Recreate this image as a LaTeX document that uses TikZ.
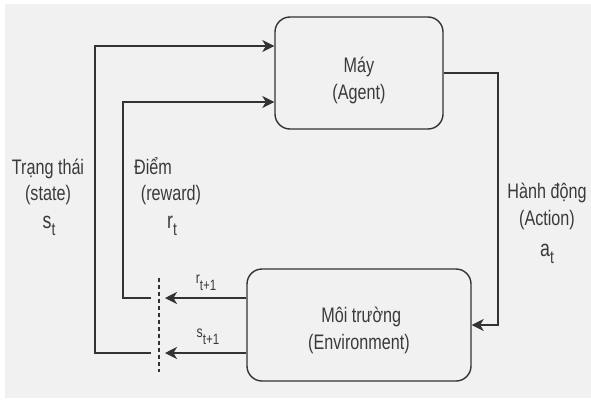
\documentclass[tikz,border=0pt]{standalone}
\usepackage{fontspec}
\setmainfont{Liberation Sans}[FakeStretch=0.77]
\usetikzlibrary{arrows.meta}
\definecolor{bg}{HTML}{F1F1F1}
\definecolor{ink}{HTML}{333333}
\definecolor{txt}{HTML}{3A3A3A}
% lowered index in a smaller size: \lowidx[size]{text}
\newcommand\lowidx[2][18]{\raisebox{-7pt}{\fontsize{#1}{#1}\selectfont #2}}
% symbol letter set a little larger than the running text
\newcommand\symb[1]{{\fontsize{23}{26}\selectfont #1}}
% extra room above the first line inside the blocks
\newcommand\boxpad[1][30pt]{\rule{0pt}{#1}}

\begin{document}
\begin{tikzpicture}[x=1pt,y=-1pt,
  box/.style={draw=ink, line width=1.4pt, rounded corners=15pt, fill=bg,
    align=center, text=txt, font=\fontsize{21}{27}\selectfont},
  wire/.style={draw=ink, line width=1.4pt},
  arr/.style={wire, -{Stealth[length=12pt,width=12pt,inset=3.5pt]}},
  cut/.style={draw=ink, line width=1.3pt, dash pattern=on 4pt off 3pt},
  lbl/.style={text=txt, font=\fontsize{21}{26}\selectfont, inner sep=0pt, anchor=base},
  elbl/.style={text=txt, font=\fontsize{16}{18}\selectfont, inner sep=0pt, anchor=base},
]
% canvas
\path[fill=white] (0,0) rectangle (591,399);
\path[fill=bg] (5,4) rectangle (591,398);
\useasboundingbox (0,0) rectangle (591,399);

% the two blocks
\node[box, minimum width=168pt, minimum height=112pt] (agent) at (359,73) {\boxpad Máy\\(Agent)};
\node[box, minimum width=224pt, minimum height=112pt] (env) at (359,325) {\boxpad[27pt] Môi trường\\(Environment)};

% action: agent -> environment
\coordinate (actTurn) at (498,73);
\draw[arr] (agent.east) -- (actTurn) |- (env.east);

% reward feedback
\coordinate (rSrc) at (env.west |- 0,298);
\coordinate (rTip) at (165,298);
\coordinate (rTail) at (151,298);
\coordinate (rBend) at (123,298);
\coordinate (rTop) at (123,102);
\coordinate (rDst) at (agent.west |- 0,102);
\draw[arr] (rSrc) -- (rTip);
\draw[arr] (rTail) -- (rBend) -- (rTop) -- (rDst);

% state feedback
\coordinate (sSrc) at (env.west |- 0,353);
\coordinate (sTip) at (165,353);
\coordinate (sTail) at (151,353);
\coordinate (sBend) at (95,353);
\coordinate (sTop) at (95,46);
\coordinate (sDst) at (agent.west |- 0,46);
\draw[arr] (sSrc) -- (sTip);
\draw[arr] (sTail) -- (sBend) -- (sTop) -- (sDst);

% time step boundary
\coordinate (cutTop) at (159,278);
\coordinate (cutBot) at (159,372);
\draw[cut] (cutTop) -- (cutBot);

% labels
\node[lbl] (stA) at (48,174) {Trạng thái};
\node[lbl] (stB) at (48,200) {(state)};
\node[lbl] (stC) at (49,228) {\symb{s}\lowidx{t}};
\node[lbl] (rwA) at (153,174) {Điểm};
\node[lbl] (rwB) at (171,200) {(reward)};
\node[lbl] (rwC) at (172,228) {\symb{r}\lowidx{t}};
\node[lbl] (acA) at (547,198) {Hành động};
\node[lbl] (acB) at (547,225) {(Action)};
\node[lbl] (acC) at (547,256) {\symb{a}\lowidx{t}};
\node[elbl] (rNext) at (206,283) {r\lowidx[15]{t+1}};
\node[elbl] (sNext) at (208,337) {s\lowidx[15]{t+1}};
\end{tikzpicture}
\end{document}
